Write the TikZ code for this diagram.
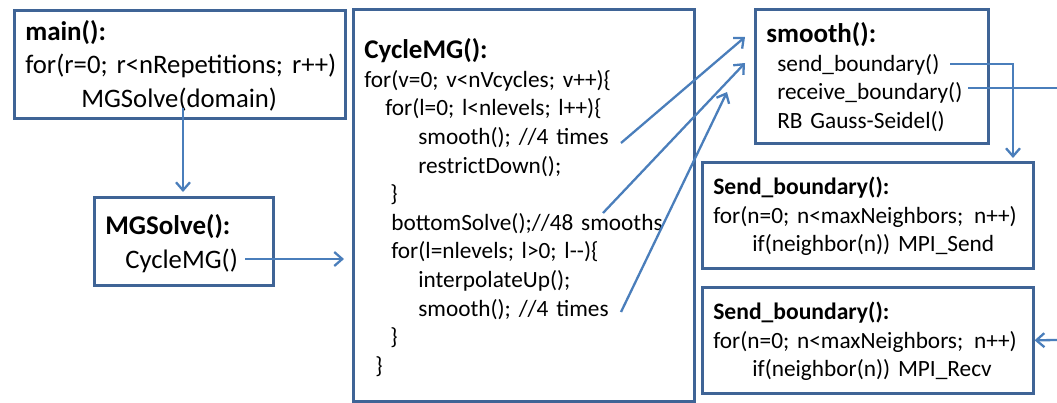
\documentclass[tikz,border=0pt]{standalone}
\usepackage{fontspec}
\setmainfont{Carlito}
\usetikzlibrary{arrows.meta, positioning}
\definecolor{boxblue}{HTML}{3F6496}
\definecolor{arrowblue}{HTML}{4A7EBB}
\newcommand{\fnhead}[2][27]{{\fontsize{#1}{28}\selectfont\bfseries #2}}
% lines of a box, lowered by #1 without changing the box size
\newcommand{\codelines}[2][0pt]{%
  \raisebox{-#1}[\height][\depth]{\begin{tabular}{@{}l@{}}#2\end{tabular}}}

\begin{document}
\begin{tikzpicture}[
  x=1pt, y=-1pt,
  code/.style={draw=boxblue, line width=2.6pt, anchor=north west, align=left,
               inner xsep=11pt, inner ysep=0pt},
  bigtext/.style={font=\frenchspacing\fontsize{26.7}{#1}\selectfont},
  smalltext/.style={font=\frenchspacing\fontsize{23.3}{#1}\selectfont},
  call/.style={draw=arrowblue, line width=2.3pt,
               -{Straight Barb[length=8pt, width=14pt]}},
  link/.style={draw=arrowblue, line width=2.3pt}
]
\useasboundingbox (0,0) rectangle (1057,402);

%% ---------- code boxes ----------
\node[code, bigtext=33.3, text width=309pt, minimum height=108pt] (main) at (13,9) {%
\codelines[3pt]{%
\fnhead{main():}\\
for(r=0; r<nRepetitions; r++)\\
\hspace*{56pt}MGSolve(domain)}};

\node[code, bigtext=34, text width=157pt, minimum height=88pt] (mgs) at (93,196) {%
\codelines[3pt]{%
\fnhead{MGSolve():}\\
\hspace*{20pt}CycleMG()}};

\node[code, smalltext=28.6, text width=319pt, minimum height=392pt] (cyc) at (352,8) {%
\codelines[5pt]{%
\fnhead{CycleMG():}\\
for(v=0; v<nVcycles; v++)\{\\
\hspace*{21pt}for(l=0; l<nlevels; l++)\{\\
\hspace*{54pt}smooth(); //4 times\\
\hspace*{54pt}restrictDown();\\
\hspace*{26pt}\}\\
\hspace*{27pt}bottomSolve();//48 smooths\\
\hspace*{27pt}for(l=nlevels; l>0; l-{}-)\{\\
\hspace*{54pt}interpolateUp();\\
\hspace*{54pt}smooth(); //4 times\\
\hspace*{26pt}\}\\
\hspace*{11pt}\}}};

\node[code, smalltext=28.7, text width=211pt, minimum height=134pt] (smo) at (754,8) {%
\codelines[3.5pt]{%
\fnhead{smooth():}\\
\hspace*{11pt}send\_boundary()\\
\hspace*{11pt}receive\_boundary()\\
\hspace*{11pt}RB Gauss-Seidel()}};

\node[code, smalltext=28.5, text width=309pt, minimum height=106pt] (snd) at (701,161) {%
\codelines[2pt]{%
\fnhead[23.6]{Send\_boundary():}\\
for(n=0; n<maxNeighbors;\ \hspace{3pt}n++)\\
\hspace*{39pt}if(neighbor(n)) MPI\_Send}};

\node[code, smalltext=28.5, text width=309pt, minimum height=106pt] (rcv) at (701,286) {%
\codelines[2pt]{%
\fnhead[23.6]{Send\_boundary():}\\
for(n=0; n<maxNeighbors;\ \hspace{3pt}n++)\\
\hspace*{39pt}if(neighbor(n)) MPI\_Recv}};

%% ---------- call points ----------
\coordinate (mgd)  at (183,108);
\coordinate (cmg)  at (245,259);
\coordinate (sm1)  at (621,143);
\coordinate (bot)  at (603,213);
\coordinate (sm2)  at (621,312);
\coordinate (to1)  at (745,37);
\coordinate (to2)  at (745,63);
\coordinate (to3)  at (727,92);
\coordinate (sb)   at (950,64);
\coordinate (sbin) at (1013,158);
\coordinate (rb)   at (968,88);
\coordinate (rbout) at (1057,88);
\coordinate (rcin) at (1057,340);

%% ---------- calls ----------
\draw[call, shorten >=4pt] (mgd) -- (mgd |- mgs.north);
\draw[call, shorten >=8pt] (cmg) -- (cmg -| cyc.west);
\draw[call] (sm1) -- (to1);
\draw[call] (bot) -- (to2);
\draw[call] (sm2) -- (to3);
\draw[call] (sb) -| (sbin);
\draw[link] (rb) -- (rbout);
\draw[call] (rcin) -- (rcv.east);
\end{tikzpicture}
\end{document}
